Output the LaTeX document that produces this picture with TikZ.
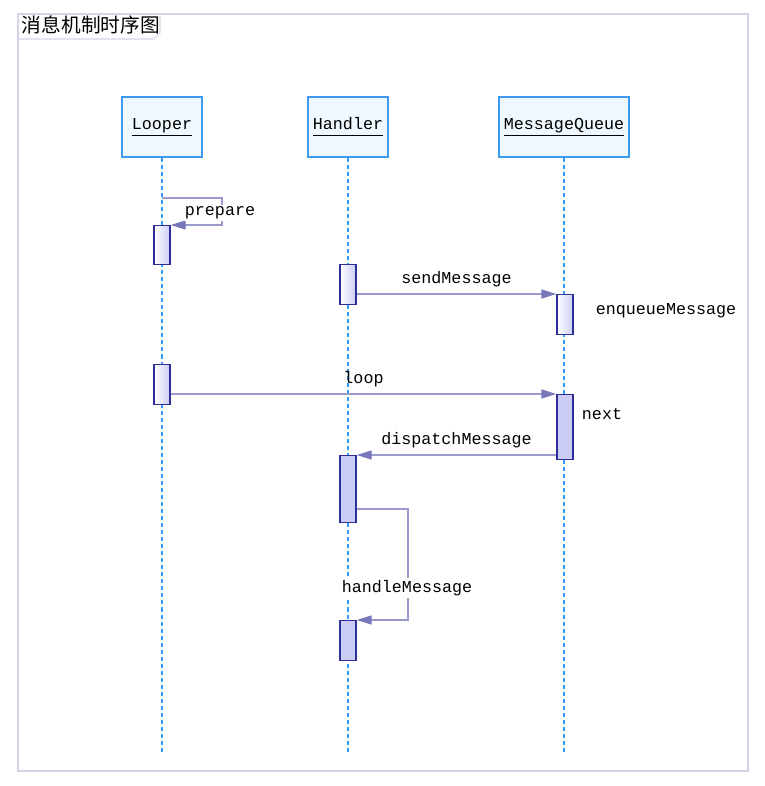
\documentclass[tikz,border=0pt]{standalone}
\usepackage{fontspec}
\setmonofont{Liberation Mono}
\newfontfamily\cjk{Noto Sans CJK SC}
\usetikzlibrary{positioning,arrows.meta}

\definecolor{framec}{HTML}{D2D2E8}
\definecolor{boxline}{HTML}{3D9BEF}
\definecolor{boxfill}{HTML}{EEF8FE}
\definecolor{lifec}{HTML}{3399FF}
\definecolor{actline}{HTML}{2E2E99}
\definecolor{actfill}{HTML}{CCCCF8}
\definecolor{msgc}{HTML}{9A9ACE}
\definecolor{tipc}{HTML}{7777BB}

\tikzset{
  lifebox/.style={draw=boxline, fill=boxfill, line width=0.8pt, minimum width=1.6cm,
    minimum height=1.2cm, inner sep=0pt, font=\fontsize{9.5}{11}\selectfont\ttfamily},
  lifeline/.style={lifec, line width=0.8pt, dash pattern=on 2.3pt off 1.7pt},
  actbox/.style={draw=actline, fill=actfill, line width=0.8pt, minimum width=0.32cm,
    inner sep=0pt, anchor=north},
  actgrad/.style={actbox, left color=white, right color=actfill},
  msg/.style={msgc, line width=0.8pt, -{Triangle[length=0.3cm,width=0.18cm,color=tipc,fill=tipc]}},
  msglabel/.style={font=\fontsize{9.5}{11}\selectfont\ttfamily, text=black},
}
\newcommand{\objname}[1]{\underline{#1\vphantom{p}}}

\begin{document}
\begin{tikzpicture}[x=0.02cm,y=-0.02cm]
    \useasboundingbox (0,0) rectangle (764,786);

    % okvir in naslov
    \draw [framec, line width=0.6pt] (18,14) rectangle (748,771);
    \node [anchor=north west, inner sep=1.5pt, font=\fontsize{11.2}{13}\cjk] (title) at (19,13) {消息机制时序图};
    \draw [framec, line width=0.6pt] (18,39) -- (154,39) -- (160,33) -- (160,14);

    % objekti
    \node [lifebox] (looper) at (162,127) {\objname{Looper}};
    \node [lifebox] (handler) at (348,127) {\objname{Handler}};
    \node [lifebox, minimum width=2.6cm] (queue) at (564,127) {\objname{MessageQueue}};

    % zivljenjske crte
    \coordinate (end) at (0,752);
    \draw [lifeline] (looper.south) -- (looper |- end);
    \draw [lifeline] (handler.south) -- (handler |- end);
    \draw [lifeline] (queue.south) -- (queue |- end);

    % aktivacije
    \node [actgrad, minimum height=0.78cm] (l1) at (162,225) {};
    \node [actgrad, minimum height=0.8cm] (h1) at (348,264) {};
    \node [actgrad, minimum height=0.8cm] (q1) at (565,294) {};
    \node [actgrad, minimum height=0.8cm] (l2) at (162,364) {};
    \node [actbox, minimum height=1.3cm] (q2) at (565,394) {};
    \node [actbox, minimum height=1.34cm] (h2) at (348,455) {};
    \node [actbox, minimum height=0.8cm] (h3) at (348,620) {};

    % sporocila
    \coordinate (pr) at (222,198);
    \draw [msg] (looper |- pr) -- (pr) |- (l1.north east);
    \node [msglabel, fill=white, inner sep=1pt] (prep) at (220,213) {prepare};

    \draw [msg] (h1.east |- q1.north west) -- node [msglabel, above] (send) {sendMessage} (q1.north west);
    \node [msglabel] (enq) at (666,311) {enqueueMessage};

    \draw [msg] (l2.east |- q2.north west) -- node [msglabel, above] (lp) {loop} (q2.north west);
    \node [msglabel] (nxt) at (602,414) {next};

    \draw [msg] (q2.west |- h2.north) -- node [msglabel, above] (disp) {dispatchMessage} (h2.north east);

    \coordinate (hm) at (408,509);
    \draw [msg] (h2.east |- hm) -- (hm) |- (h3.north east);
    \node [msglabel, fill=white, inner sep=1pt] (handle) at (407,588) {handleMessage};
\end{tikzpicture}
\end{document}
